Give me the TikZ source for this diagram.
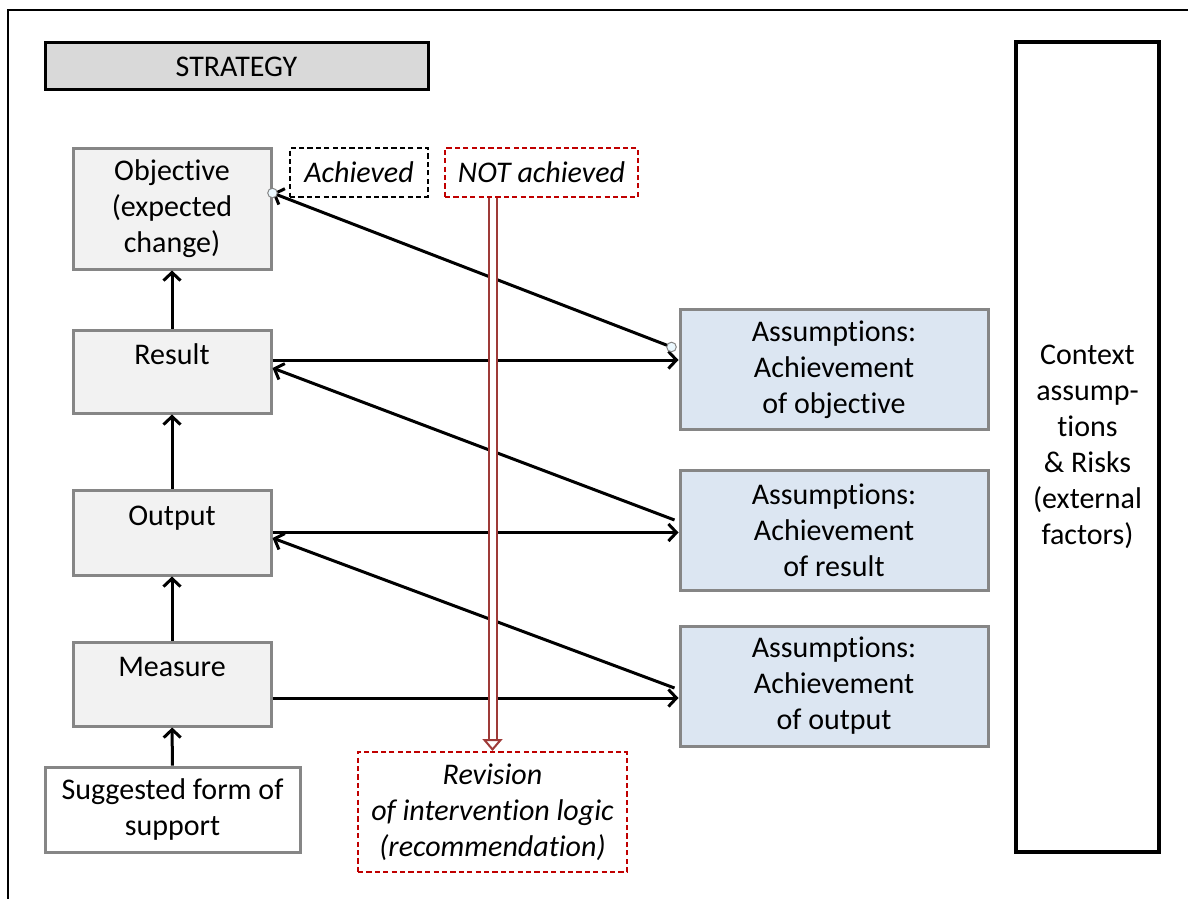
\documentclass[tikz,border=0pt]{standalone}
\usepackage{fontspec}
\setmainfont{Carlito}[Ligatures={NoCommon,NoContextual,NoRequired,NoRare}]
\usetikzlibrary{arrows.meta, positioning}
\definecolor{boxgray}{RGB}{242,242,242}
\definecolor{edgegray}{RGB}{134,134,134}
\definecolor{assumblue}{RGB}{220,230,242}
\definecolor{dashred}{RGB}{192,0,0}
\definecolor{revred}{RGB}{158,58,56}

\tikzset{
    logic/.style={draw=edgegray, line width=1.5pt, fill=boxgray, align=center,
        minimum width=99pt, inner sep=2pt},
    uptext/.style={text depth=17pt},
    assum/.style={logic, fill=assumblue, minimum width=154pt, minimum height=60pt},
    note/.style={draw, dashed, dash pattern=on 2.6pt off 1.6pt, line width=1pt,
        font=\fontsize{15}{18}\selectfont\itshape, align=center, minimum height=24.5pt},
    link/.style={-{Straight Barb[length=4pt, width=8.5pt]}, line width=1.5pt},
    joint/.style={circle, draw=edgegray, fill=cyan!8, line width=0.5pt, inner sep=0pt, minimum size=4.8pt}
}

\begin{document}
\begin{tikzpicture}[x=0.5pt, y=-0.5pt, every node/.append style={font=\fontsize{15}{18}\selectfont}]
    \useasboundingbox (0,0) rectangle (1188,899);
    % Frame
    \draw[line width=1.1pt] (8,899) -- (8,10) -- (1188,10);

    % Strategy and context
    \node[draw, line width=1.5pt, fill=black!15, minimum width=191.5pt, minimum height=23.5pt] (strat) at (236.5,66.5) {STRATEGY};
    \node[draw, line width=1.6pt, align=center, minimum width=71.5pt, minimum height=405pt] (ctx) at (1087.5,447)
        {Context\\assump-\\tions\\\& Risks\\(external\\factors)};

    % Intervention logic
    \node[logic, minimum height=60.5pt] (obj) at (172,208.5) {Objective\\(expected\\change)};
    \node[logic, uptext, minimum height=41.5pt] (res) at (172,371.5) {Result};
    \node[logic, uptext, minimum height=42.5pt] (out) at (172,532.5) {Output};
    \node[logic, uptext, minimum height=42pt] (mea) at (172,684) {Measure};
    \node[logic, fill=white, minimum width=127.5pt, minimum height=42.5pt] (sug) at (172.5,809.5) {Suggested form of\\support};

    % Assumptions
    \node[assum] (aobj) at (834,369.5) {Assumptions:\\Achievement\\of objective};
    \node[assum] (ares) at (834,530) {Assumptions:\\Achievement\\of result};
    \node[assum] (aout) at (834,686) {Assumptions:\\Achievement\\of output};

    % Evaluation notes
    \node[note, minimum width=69pt] (ach) at (359,172.5) {Achieved};
    \node[note, draw=dashred, minimum width=96.5pt] (notach) at (541.5,172.5) {NOT achieved};
    \node[note, draw=dashred, minimum width=134.5pt, minimum height=60pt] (rev) at (492.5,812)
        {Revision\\of intervention logic\\(recommendation)};

    % Vertical chain
    \draw[link] (sug) -- (mea);
    \draw[link] (mea) -- (out);
    \draw[link] (out) -- (res);
    \draw[link] (res) -- (obj);

    % To assumptions
    \draw[link] ([yshift=5.75pt]res.east) -- ([yshift=5.75pt]res.east -| aobj.west);
    \draw[link] (out.east) -- (out.east -| ares.west);
    \draw[link] ([yshift=-7pt]mea.east) -- ([yshift=-7pt]mea.east -| aout.west);

    % Back to logic
    \coordinate (p1) at ([xshift=-3.5pt, yshift=11.25pt]aobj.west);
    \coordinate (q1) at ([yshift=7.75pt]obj.east);
    \draw[link] (p1) -- (q1);
    \draw[link] ([xshift=-2pt, yshift=5pt]ares.west) -- ([yshift=1.75pt]res.east);
    \draw[link] ([xshift=-2pt, yshift=-1pt]aout.west) -- ([yshift=-2.75pt]out.east);
    \node[joint] (j1) at (p1) {};
    \node[joint] (j2) at (q1) {};

    % Revision
    \draw[revred, line width=1pt, double=white, double distance=3pt,
        -{Triangle[open, fill=white, length=6pt, width=10pt, line width=1pt]}]
        (rev.north |- notach.south) -- (rev.north);
\end{tikzpicture}
\end{document}
